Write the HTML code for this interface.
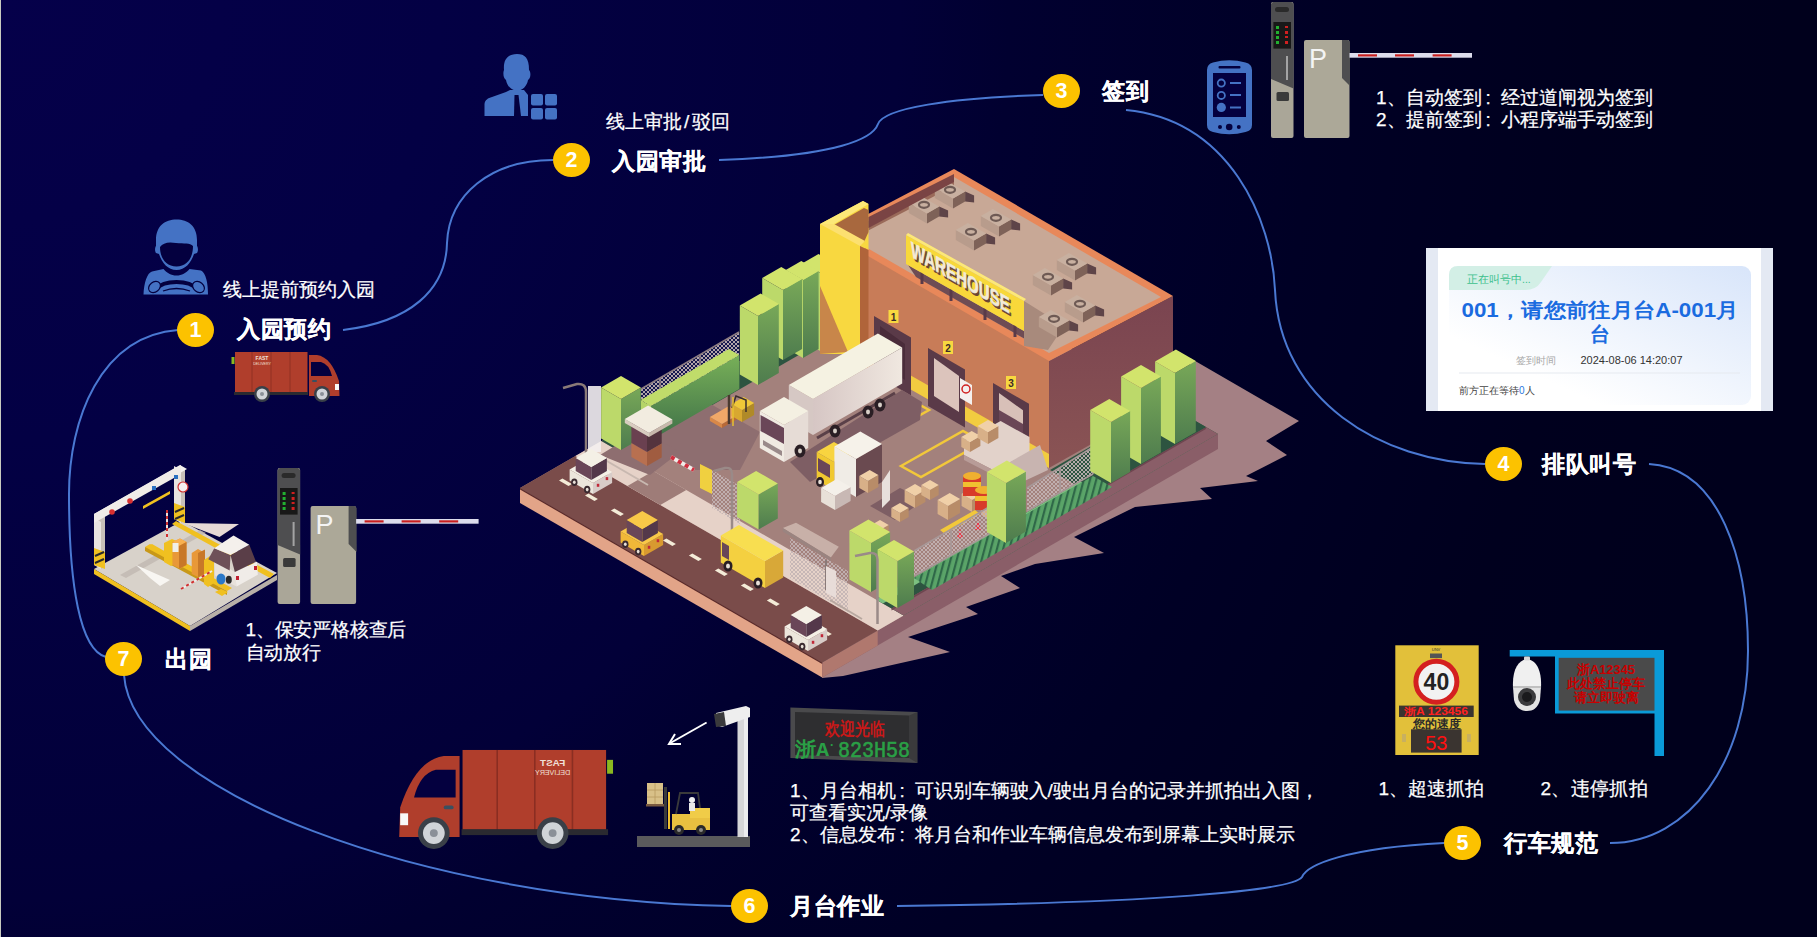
<!DOCTYPE html>
<html><head><meta charset="utf-8">
<style>
html,body{margin:0;padding:0;}
body{width:1817px;height:937px;overflow:hidden;position:relative;
background:radial-gradient(circle at 0 0,#05004a 0px,#030044 440px,#020038 900px,#010030 1010px,#000025 1320px,#00001e 1590px,#00001c 1790px);
font-family:"Liberation Sans",sans-serif;color:#fff;}
.edge{position:absolute;left:0;top:0;width:1px;height:937px;background:#c8cac0;}
.t{position:absolute;white-space:nowrap;line-height:1;}
.lb{font-size:23px;font-weight:bold;letter-spacing:0.6px;}
.bd{font-size:19px;}
.t{-webkit-text-stroke:0.25px #fff;}
.cl{display:inline-block;width:1em;text-indent:0.2em;}
.num{position:absolute;width:37px;height:34px;border-radius:50%;background:#fcc200;color:#fff;font-weight:bold;font-size:21.5px;line-height:34px;text-align:center;-webkit-text-stroke:0;}
svg{position:absolute;left:0;top:0;}
</style></head><body>
<div class="edge"></div>
<svg width="1817" height="937" viewBox="0 0 1817 937">
<defs>
<pattern id="mesh" width="4" height="4" patternUnits="userSpaceOnUse"><path d="M0,0 L4,4 M4,0 L0,4" stroke="#c4b4b4" stroke-width="0.9"/></pattern>
<pattern id="gstripe" width="6" height="6" patternUnits="userSpaceOnUse" patternTransform="rotate(15)"><rect width="6" height="6" fill="#5aa468"/><rect width="2.2" height="6" fill="#2f6848"/></pattern>
<linearGradient id="gR" x1="0" y1="0" x2="0" y2="1"><stop offset="0" stop-color="#78a858"/><stop offset="1" stop-color="#4e7c4e"/></linearGradient>
<linearGradient id="gH" x1="0" y1="0" x2="0" y2="1"><stop offset="0" stop-color="#78b058"/><stop offset="1" stop-color="#3e7048"/></linearGradient>
<linearGradient id="gBR" x1="0" y1="0" x2="0" y2="1"><stop offset="0" stop-color="#7a4450"/><stop offset="1" stop-color="#8a5454"/></linearGradient>
<linearGradient id="gTr" x1="0" y1="0" x2="1" y2="0"><stop offset="0" stop-color="#d6c6c4"/><stop offset="1" stop-color="#f0e8e0"/></linearGradient>
</defs>
<polygon points="1190.0,358.0 1299.0,421.0 1266.0,441.0 1287.0,455.0 1246.0,476.0 1258.0,481.0 1200.0,488.0 1212.0,499.0 1135.0,507.0 1074.0,537.0 1104.0,553.0 1035.0,564.0 1001.0,576.0 1020.0,588.0 966.0,607.0 978.0,614.0 908.0,637.0 950.0,652.0 843.0,676.0 822.0,678.0 822.0,663.0 1190.0,440.0" fill="#a48084" />
<polygon points="520.0,488.0 822.2,662.5 822.2,677.5 520.0,503.0" fill="#e2a488" />
<polygon points="822.2,662.5 1218.0,434.0 1218.0,449.0 822.2,677.5" fill="#8a5e68" />
<polygon points="822.2,662.5 877.7,630.5 877.7,645.5 822.2,677.5" fill="#b0786e" />
<polygon points="520.0,488.0 822.2,662.5 1218.0,434.0 915.8,259.5" fill="#a3817c" />
<polygon points="520.0,488.0 822.2,662.5 877.7,630.5 575.4,456.0" fill="#7a4c4a" />
<polygon points="520.0,488.0 822.2,662.5 822.2,664.0 520.0,489.5" fill="#5a2a2a" />
<polygon points="559.0,480.5 568.5,486.0 572.0,484.0 562.4,478.5" fill="#f4ecd8" />
<polygon points="585.0,495.5 594.5,501.0 597.9,499.0 588.4,493.5" fill="#f4ecd8" />
<polygon points="610.9,510.5 620.5,516.0 623.9,514.0 614.4,508.5" fill="#f4ecd8" />
<polygon points="636.9,525.5 646.4,531.0 649.9,529.0 640.4,523.5" fill="#f4ecd8" />
<polygon points="662.9,540.5 672.4,546.0 675.9,544.0 666.4,538.5" fill="#f4ecd8" />
<polygon points="688.9,555.5 698.4,561.0 701.9,559.0 692.3,553.5" fill="#f4ecd8" />
<polygon points="714.9,570.5 724.4,576.0 727.8,574.0 718.3,568.5" fill="#f4ecd8" />
<polygon points="740.8,585.5 750.4,591.0 753.8,589.0 744.3,583.5" fill="#f4ecd8" />
<polygon points="766.8,600.5 776.3,606.0 779.8,604.0 770.3,598.5" fill="#f4ecd8" />
<polygon points="792.8,615.5 802.3,621.0 805.8,619.0 796.3,613.5" fill="#f4ecd8" />
<polygon points="818.8,630.5 828.3,636.0 831.8,634.0 822.2,628.5" fill="#f4ecd8" />
<polygon points="575.4,456.0 877.7,630.5 903.6,615.5 601.4,441.0" fill="#e6d2c8" />
<polygon points="627.4,486.0 660.3,505.0 686.3,490.0 653.4,471.0" fill="#9e7c78" />
<polygon points="875.9,599.5 903.6,615.5 1218.0,434.0 1190.3,418.0" fill="#2d5440" />
<polygon points="891.5,608.5 903.6,615.5 1218.0,434.0 1205.9,427.0" fill="#8a5e68" />
<polygon points="891.5,608.5 1205.9,427.0 1205.9,429.0 891.5,610.5" fill="#6e4650" />
<polygon points="1050.0,470.0 1090.7,493.5 1205.9,427.0 1165.2,403.5" fill="#2d5440" />
<polygon points="875.9,599.5 882.9,603.5 1087.2,485.5 1080.3,481.5" fill="#7cc080" />
<polygon points="601.4,441.0 625.7,455.0 940.0,273.5 915.8,259.5" fill="#2d5440" />
<polygon points="641,430 700,398 760,432 740,470 690,470" fill="#8e6e70"/>
<polygon points="600,455 641,430 680,452 650,475" fill="#8e6e70"/>
<polygon points="802.9,341.0 822.0,352.0 822.0,274.0 802.9,263.0" fill="#bcd96a" /><polygon points="822.0,352.0 837.6,343.0 837.6,265.0 822.0,274.0" fill="url(#gR)" /><polygon points="802.9,263.0 822.0,274.0 837.6,265.0 818.5,254.0" fill="#d2e46c" />
<polygon points="785.7,348.0 803.0,358.0 803.0,280.0 785.7,270.0" fill="#bcd96a" /><polygon points="803.0,358.0 818.6,349.0 818.6,271.0 803.0,280.0" fill="url(#gR)" /><polygon points="785.7,270.0 803.0,280.0 818.6,271.0 801.3,261.0" fill="#d2e46c" />
<polygon points="762.2,348.0 783.0,360.0 783.0,290.0 762.2,278.0" fill="#bcd96a" /><polygon points="783.0,360.0 802.1,349.0 802.1,279.0 783.0,290.0" fill="url(#gR)" /><polygon points="762.2,278.0 783.0,290.0 802.1,279.0 781.3,267.0" fill="#d2e46c" />
<polygon points="739.8,374.5 758.0,385.0 758.0,316.0 739.8,305.5" fill="#bcd96a" /><polygon points="758.0,385.0 778.8,373.0 778.8,304.0 758.0,316.0" fill="url(#gR)" /><polygon points="739.8,305.5 758.0,316.0 778.8,304.0 760.6,293.5" fill="#d2e46c" />
<polygon points="641.0,389.0 739.0,332.0 739.0,372.0 641.0,428.0" fill="#14164e"/><polygon points="641.0,389.0 739.0,332.0 739.0,372.0 641.0,428.0" fill="url(#mesh)"/>
<g stroke="#8a7a80" stroke-width="1.5"><line x1="641" y1="389" x2="739" y2="332"/><line x1="660" y1="378" x2="660" y2="420"/><line x1="700" y1="355" x2="700" y2="398"/></g>
<polygon points="640.6,434.0 651.0,440.0 651.0,406.0 640.6,400.0" fill="#b5d468" /><polygon points="651.0,440.0 739.3,389.0 739.3,355.0 651.0,406.0" fill="url(#gH)" /><polygon points="640.6,400.0 651.0,406.0 739.3,355.0 728.9,349.0" fill="#c0dc6a" />
<polygon points="601.1,438.5 621.0,450.0 621.0,399.0 601.1,387.5" fill="#bcd96a" /><polygon points="621.0,450.0 640.9,438.5 640.9,387.5 621.0,399.0" fill="url(#gR)" /><polygon points="601.1,387.5 621.0,399.0 640.9,387.5 621.0,376.0" fill="#d2e46c" />
<rect x="588" y="386" width="13" height="66" fill="#f4f0f0" opacity="0.9"/>
<path d="M586,453 L586,392 Q586,383 577,384 L563,388" stroke="#8a7a78" stroke-width="2.5" fill="none"/>
<polygon points="860.0,250.0 874.0,258.0 874.0,372.0 860.0,365.0" fill="#9a5038" />
<polygon points="866.0,254.0 1049.0,359.0 1049.0,468.0 866.0,364.0" fill="#c87c58" />
<polygon points="1049.0,361.0 1173.0,296.0 1173.0,398.0 1049.0,468.0" fill="url(#gBR)" />
<polygon points="880.0,372.0 1049.0,468.0 1049.0,454.0 880.0,358.0" fill="#f2cc40" />
<polygon points="874.0,316.0 911.0,337.4 911.0,395.4 874.0,374.0" fill="#5a3a48" />
<polygon points="880.0,326.0 905.0,343.9 905.0,379.9 880.0,364.0" fill="#4a2c3a" />
<polygon points="928.0,348.0 965.0,369.4 965.0,427.4 928.0,406.0" fill="#5a3a48" />
<polygon points="934.0,358.0 959.0,375.9 959.0,411.9 934.0,396.0" fill="#dcc4bc" />
<polygon points="993.0,383.0 1029.0,403.8 1029.0,458.8 993.0,438.0" fill="#5a3a48" />
<polygon points="999.0,393.0 1023.0,410.3 1023.0,443.3 999.0,428.0" fill="#d8c0b8" />
<polygon points="999.0,410.0 1023.0,424.0 1023.0,452.0 999.0,438.0" fill="#6a4656" />
<polygon points="960.0,378.0 972.0,385.0 972.0,405.0 960.0,398.0" fill="#f4f0ee" />
<circle cx="966" cy="389" r="4" fill="none" stroke="#d02020" stroke-width="1.5"/>
<rect x="888.5" y="310" width="10" height="13" fill="#f8d840"/><text x="893.5" y="321" font-size="10" font-weight="bold" fill="#3a2a2a" text-anchor="middle" font-family="Liberation Sans">1</text>
<rect x="943" y="341" width="10" height="13" fill="#f8d840"/><text x="948" y="352" font-size="10" font-weight="bold" fill="#3a2a2a" text-anchor="middle" font-family="Liberation Sans">2</text>
<rect x="1006" y="376" width="10" height="13" fill="#f8d840"/><text x="1011" y="387" font-size="10" font-weight="bold" fill="#3a2a2a" text-anchor="middle" font-family="Liberation Sans">3</text>
<polygon points="954.0,169.0 1173.0,296.0 1049.0,361.0 830.0,234.0" fill="#e8885a" />
<polygon points="954.0,177.0 1161.0,297.0 1049.0,353.0 843.0,234.0" fill="#c8a896" />
<polygon points="954.0,177.0 843.0,234.0 850.0,240.0 954.0,186.0" fill="#9a6a5a" />
<polygon points="908.0,265.0 1024.0,331.0 1032.0,343.0 916.0,277.0" fill="#6e4c54" />
<polygon points="1024.0,301.0 1064.0,326.0 1048.0,350.0 1024.0,346.0" fill="#a88a7c" />
<polygon points="939.1,206.5 948.1,210.5 948.1,217.5 939.1,216.5" fill="#5e4448" />
<polygon points="908.8,213.0 927.0,223.5 927.0,213.5 908.8,203.0" fill="#b89c8c" /><polygon points="927.0,223.5 939.1,216.5 939.1,206.5 927.0,213.5" fill="#7e6258" /><polygon points="908.8,203.0 927.0,213.5 939.1,206.5 920.9,196.0" fill="#c8b0a0" />
<ellipse cx="924.0" cy="204.8" rx="5" ry="3" fill="none" stroke="#6e5a54" stroke-width="2.2"/>
<polygon points="965.1,191.5 974.1,195.5 974.1,202.5 965.1,201.5" fill="#5e4448" />
<polygon points="934.8,198.0 953.0,208.5 953.0,198.5 934.8,188.0" fill="#b89c8c" /><polygon points="953.0,208.5 965.1,201.5 965.1,191.5 953.0,198.5" fill="#7e6258" /><polygon points="934.8,188.0 953.0,198.5 965.1,191.5 946.9,181.0" fill="#c8b0a0" />
<ellipse cx="950.0" cy="189.8" rx="5" ry="3" fill="none" stroke="#6e5a54" stroke-width="2.2"/>
<polygon points="986.1,233.5 995.1,237.5 995.1,244.5 986.1,243.5" fill="#5e4448" />
<polygon points="955.8,240.0 974.0,250.5 974.0,240.5 955.8,230.0" fill="#b89c8c" /><polygon points="974.0,250.5 986.1,243.5 986.1,233.5 974.0,240.5" fill="#7e6258" /><polygon points="955.8,230.0 974.0,240.5 986.1,233.5 967.9,223.0" fill="#c8b0a0" />
<ellipse cx="971.0" cy="231.8" rx="5" ry="3" fill="none" stroke="#6e5a54" stroke-width="2.2"/>
<polygon points="1011.1,219.5 1020.1,223.5 1020.1,230.5 1011.1,229.5" fill="#5e4448" />
<polygon points="980.8,226.0 999.0,236.5 999.0,226.5 980.8,216.0" fill="#b89c8c" /><polygon points="999.0,236.5 1011.1,229.5 1011.1,219.5 999.0,226.5" fill="#7e6258" /><polygon points="980.8,216.0 999.0,226.5 1011.1,219.5 992.9,209.0" fill="#c8b0a0" />
<ellipse cx="996.0" cy="217.8" rx="5" ry="3" fill="none" stroke="#6e5a54" stroke-width="2.2"/>
<polygon points="1063.1,278.5 1072.1,282.5 1072.1,289.5 1063.1,288.5" fill="#5e4448" />
<polygon points="1032.8,285.0 1051.0,295.5 1051.0,285.5 1032.8,275.0" fill="#b89c8c" /><polygon points="1051.0,295.5 1063.1,288.5 1063.1,278.5 1051.0,285.5" fill="#7e6258" /><polygon points="1032.8,275.0 1051.0,285.5 1063.1,278.5 1044.9,268.0" fill="#c8b0a0" />
<ellipse cx="1048.0" cy="276.8" rx="5" ry="3" fill="none" stroke="#6e5a54" stroke-width="2.2"/>
<polygon points="1087.1,263.5 1096.1,267.5 1096.1,274.5 1087.1,273.5" fill="#5e4448" />
<polygon points="1056.8,270.0 1075.0,280.5 1075.0,270.5 1056.8,260.0" fill="#b89c8c" /><polygon points="1075.0,280.5 1087.1,273.5 1087.1,263.5 1075.0,270.5" fill="#7e6258" /><polygon points="1056.8,260.0 1075.0,270.5 1087.1,263.5 1068.9,253.0" fill="#c8b0a0" />
<ellipse cx="1072.0" cy="261.8" rx="5" ry="3" fill="none" stroke="#6e5a54" stroke-width="2.2"/>
<polygon points="1069.1,320.5 1078.1,324.5 1078.1,331.5 1069.1,330.5" fill="#5e4448" />
<polygon points="1038.8,327.0 1057.0,337.5 1057.0,327.5 1038.8,317.0" fill="#b89c8c" /><polygon points="1057.0,337.5 1069.1,330.5 1069.1,320.5 1057.0,327.5" fill="#7e6258" /><polygon points="1038.8,317.0 1057.0,327.5 1069.1,320.5 1050.9,310.0" fill="#c8b0a0" />
<ellipse cx="1054.0" cy="318.8" rx="5" ry="3" fill="none" stroke="#6e5a54" stroke-width="2.2"/>
<polygon points="1095.1,305.5 1104.1,309.5 1104.1,316.5 1095.1,315.5" fill="#5e4448" />
<polygon points="1064.8,312.0 1083.0,322.5 1083.0,312.5 1064.8,302.0" fill="#b89c8c" /><polygon points="1083.0,322.5 1095.1,315.5 1095.1,305.5 1083.0,312.5" fill="#7e6258" /><polygon points="1064.8,302.0 1083.0,312.5 1095.1,305.5 1076.9,295.0" fill="#c8b0a0" />
<ellipse cx="1080.0" cy="303.8" rx="5" ry="3" fill="none" stroke="#6e5a54" stroke-width="2.2"/>
<g stroke="#5a3a48" stroke-width="3"><line x1="922" y1="272" x2="922" y2="284"/><line x1="951" y1="289" x2="951" y2="301"/><line x1="985" y1="308" x2="985" y2="320"/><line x1="1015" y1="325" x2="1015" y2="337"/></g>
<polygon points="906.0,235.0 1024.0,301.0 1024.0,331.0 906.0,264.0" fill="#f8d83a" />
<polygon points="906.0,235.0 1024.0,301.0 1026.0,299.0 908.0,233.0" fill="#fce878" />
<text x="0" y="0" transform="matrix(0.866,0.5,0,1,912.5,259)" font-family="Liberation Sans" font-weight="bold" font-size="22" fill="#6a4634" stroke="#6a4634" stroke-width="1" textLength="114" lengthAdjust="spacingAndGlyphs">WAREHOUSE</text>
<text x="0" y="0" transform="matrix(0.866,0.5,0,1,911,256.5)" font-family="Liberation Sans" font-weight="bold" font-size="22" fill="#f2ead8" stroke="#f2ead8" stroke-width="0.6" textLength="114" lengthAdjust="spacingAndGlyphs">WAREHOUSE</text>
<polygon points="820.0,224.0 863.0,201.0 868.5,204.0 868.5,250.0 865.0,248.0 865.0,354.0 820.0,354.0" fill="#f8d840" />
<polygon points="834.0,225.0 864.0,208.0 868.5,210.0 868.5,232.0 864.0,242.0" fill="#a8683e" />
<polygon points="868.5,217.0 954.0,174.0 954.0,182.0 868.5,228.0" fill="#7a4444" />
<polygon points="820.0,224.0 863.0,201.0 868.5,204.0 834.0,224.0" fill="#fce878" />
<polygon points="820.0,224.0 834.0,224.0 865.0,241.0 860.0,246.0" fill="#fce070" />
<polygon points="820.0,286.0 848.0,352.0 820.0,354.0" fill="#c8864a" />
<polygon points="860.0,246.0 868.5,250.0 868.5,372.0 860.0,356.0" fill="#b0643a" />
<g stroke="#f2c83a" stroke-width="2.5" fill="none"><polygon points="847,434 909,399 929,410 867,445"/><polygon points="901,466 963,431 983,442 921,477"/></g>
<polygon points="964.0,441.5 1000.6,421.0 1029.5,437.0 1029.5,452.0 995.0,471.0 964.0,455.0" fill="#e2d2ca" />
<polygon points="964.0,455.0 995.0,471.0 995.0,476.0 964.0,460.0" fill="#b89c98" />
<polygon points="1010.0,462.0 1040.0,445.0 1048.0,470.0 1018.0,484.0" fill="#c8b4b0" />
<polygon points="961.3,447.0 970.0,452.0 970.0,442.0 961.3,437.0" fill="#d8b088" /><polygon points="970.0,452.0 980.4,446.0 980.4,436.0 970.0,442.0" fill="#b88c68" /><polygon points="961.3,437.0 970.0,442.0 980.4,436.0 971.7,431.0" fill="#f0d0a8" />
<polygon points="977.6,438.0 988.0,444.0 988.0,432.0 977.6,426.0" fill="#d8b088" /><polygon points="988.0,444.0 998.4,438.0 998.4,426.0 988.0,432.0" fill="#b88c68" /><polygon points="977.6,426.0 988.0,432.0 998.4,426.0 988.0,420.0" fill="#f0d0a8" />
<polygon points="790,462 902,390 922,402 920,420 810,482" fill="#7e5e64"/>
<polygon points="870,506 900,488 925,500 895,520" fill="#7e5e64"/>
<g><polygon points="788.8,421.0 813.0,435.0 813.0,399.0 788.8,385.0" fill="#d6c8c4" /><polygon points="813.0,435.0 902.2,383.5 902.2,347.5 813.0,399.0" fill="url(#gTr)" /><polygon points="788.8,385.0 813.0,399.0 902.2,347.5 877.9,333.5" fill="#f5f2e2" /></g>
<line x1="817" y1="438" x2="895" y2="393" stroke="#5a4048" stroke-width="3"/>
<ellipse cx="835" cy="431" rx="5.5" ry="6.5" fill="#2a1e24"/><ellipse cx="835" cy="431" rx="2" ry="2.4" fill="#d8d0c8"/>
<ellipse cx="868" cy="412" rx="5.5" ry="6.5" fill="#2a1e24"/><ellipse cx="868" cy="412" rx="2" ry="2.4" fill="#d8d0c8"/>
<ellipse cx="880" cy="405" rx="5.5" ry="6.5" fill="#2a1e24"/><ellipse cx="880" cy="405" rx="2" ry="2.4" fill="#d8d0c8"/>
<polygon points="759.8,448.0 784.0,462.0 784.0,425.0 759.8,411.0" fill="#f0eae2" /><polygon points="784.0,462.0 808.2,448.0 808.2,411.0 784.0,425.0" fill="#e6dcd6" /><polygon points="759.8,411.0 784.0,425.0 808.2,411.0 784.0,397.0" fill="#f4f0e2" />
<polygon points="760.5,415.0 784.0,428.0 784.0,444.0 760.5,431.0" fill="#6a4658" />
<polygon points="763.0,440.0 782.0,451.0 782.0,456.0 763.0,445.0" fill="#9a8a8a" />
<ellipse cx="800" cy="451" rx="5.5" ry="6.5" fill="#2a1e24"/><ellipse cx="800" cy="451" rx="2" ry="2.4" fill="#d8d0c8"/>
<polygon points="709.9,421.0 722.0,428.0 722.0,424.0 709.9,417.0" fill="#d88848" /><polygon points="722.0,428.0 741.1,417.0 741.1,413.0 722.0,424.0" fill="#b86a38" /><polygon points="709.9,417.0 722.0,424.0 741.1,413.0 728.9,406.0" fill="#f0a868" />
<polygon points="731.6,416.0 742.0,422.0 742.0,410.0 731.6,404.0" fill="#d8a830" /><polygon points="742.0,422.0 754.1,415.0 754.1,403.0 742.0,410.0" fill="#b08a28" /><polygon points="731.6,404.0 742.0,410.0 754.1,403.0 743.7,397.0" fill="#f0c838" />
<polyline points="732,408 736,396 746,400 746,412" stroke="#3a2e2e" stroke-width="1.5" fill="none"/>
<line x1="729" y1="395" x2="729" y2="424" stroke="#4a3a30" stroke-width="2.5"/><line x1="733" y1="397" x2="733" y2="426" stroke="#e8c030" stroke-width="1.5"/>
<polygon points="631.4,457.0 647.0,466.0 647.0,452.0 631.4,443.0" fill="#b87050" /><polygon points="647.0,466.0 661.7,457.5 661.7,443.5 647.0,452.0" fill="#a05c40" /><polygon points="631.4,443.0 647.0,452.0 661.7,443.5 646.1,434.5" fill="#c08060" />
<polygon points="631.4,443.0 647.0,452.0 647.0,430.0 631.4,421.0" fill="#6a4050" /><polygon points="647.0,452.0 661.7,443.5 661.7,421.5 647.0,430.0" fill="#54343e" /><polygon points="631.4,421.0 647.0,430.0 661.7,421.5 646.1,412.5" fill="#6a4a50" />
<polygon points="624.8,423.0 649.0,437.0 649.0,433.0 624.8,419.0" fill="#d8ccc0" /><polygon points="649.0,437.0 672.4,423.5 672.4,419.5 649.0,433.0" fill="#c8b8ac" /><polygon points="624.8,419.0 649.0,433.0 672.4,419.5 648.1,405.5" fill="#f2ece0" />
<line x1="671" y1="457" x2="694" y2="470" stroke="#f0ece8" stroke-width="4"/><line x1="671" y1="457" x2="694" y2="470" stroke="#d03040" stroke-width="4" stroke-dasharray="4 4"/>
<polygon points="700.0,464.0 712.0,470.0 712.0,494.0 700.0,488.0" fill="#f0d040" />
<polygon points="712,470 740,486 740,524 712,508" fill="url(#mesh)"/>
<polygon points="816.7,480.0 834.0,490.0 834.0,462.0 816.7,452.0" fill="#f0c830" /><polygon points="834.0,490.0 851.3,480.0 851.3,452.0 834.0,462.0" fill="#c89a28" /><polygon points="816.7,452.0 834.0,462.0 851.3,452.0 834.0,442.0" fill="#f8d440" />
<polygon points="818.0,458.0 830.0,465.0 830.0,478.0 818.0,471.0" fill="#6a4658" />
<polygon points="834.4,484.5 856.0,497.0 856.0,459.0 834.4,446.5" fill="#f0ece6" /><polygon points="856.0,497.0 882.0,482.0 882.0,444.0 856.0,459.0" fill="#6a4a50" /><polygon points="834.4,446.5 856.0,459.0 882.0,444.0 860.3,431.5" fill="#f6f2ea" />
<polygon points="859.3,488.0 868.0,493.0 868.0,481.0 859.3,476.0" fill="#d8b088" /><polygon points="868.0,493.0 878.4,487.0 878.4,475.0 868.0,481.0" fill="#b88c68" /><polygon points="859.3,476.0 868.0,481.0 878.4,475.0 869.7,470.0" fill="#f0d0a8" />
<polygon points="882.0,482.0 890.0,470.0 890.0,500.0 882.0,508.0" fill="#e8e0dc" />
<ellipse cx="820" cy="482" rx="4" ry="5" fill="#2a1e24"/><ellipse cx="820" cy="482" rx="1.8" ry="2.2" fill="#e8e0d8"/>
<ellipse cx="846" cy="496" rx="4" ry="5" fill="#2a1e24"/><ellipse cx="846" cy="496" rx="1.8" ry="2.2" fill="#e8e0d8"/>
<polygon points="904.6,502.0 915.0,508.0 915.0,496.0 904.6,490.0" fill="#d8b088" /><polygon points="915.0,508.0 925.4,502.0 925.4,490.0 915.0,496.0" fill="#b88c68" /><polygon points="904.6,490.0 915.0,496.0 925.4,490.0 915.0,484.0" fill="#f0d0a8" />
<polygon points="921.3,495.0 930.0,500.0 930.0,490.0 921.3,485.0" fill="#d8b088" /><polygon points="930.0,500.0 938.7,495.0 938.7,485.0 930.0,490.0" fill="#b88c68" /><polygon points="921.3,485.0 930.0,490.0 938.7,485.0 930.0,480.0" fill="#f0d0a8" />
<polygon points="937.6,514.0 948.0,520.0 948.0,506.0 937.6,500.0" fill="#d8b088" /><polygon points="948.0,520.0 960.1,513.0 960.1,499.0 948.0,506.0" fill="#b88c68" /><polygon points="937.6,500.0 948.0,506.0 960.1,499.0 949.7,493.0" fill="#f0d0a8" />
<polygon points="891.3,517.0 900.0,522.0 900.0,513.0 891.3,508.0" fill="#d8b088" /><polygon points="900.0,522.0 908.7,517.0 908.7,508.0 900.0,513.0" fill="#b88c68" /><polygon points="891.3,508.0 900.0,513.0 908.7,508.0 900.0,503.0" fill="#f0d0a8" />
<polygon points="981.3,515.0 990.0,520.0 990.0,510.0 981.3,505.0" fill="#d8b088" /><polygon points="990.0,520.0 1000.4,514.0 1000.4,504.0 990.0,510.0" fill="#b88c68" /><polygon points="981.3,505.0 990.0,510.0 1000.4,504.0 991.7,499.0" fill="#f0d0a8" />
<polygon points="961.6,506.0 972.0,512.0 972.0,500.0 961.6,494.0" fill="#d8b088" /><polygon points="972.0,512.0 980.7,507.0 980.7,495.0 972.0,500.0" fill="#b88c68" /><polygon points="961.6,494.0 972.0,500.0 980.7,495.0 970.3,489.0" fill="#f0d0a8" />
<polygon points="871.3,535.0 880.0,540.0 880.0,530.0 871.3,525.0" fill="#d8b088" /><polygon points="880.0,540.0 888.7,535.0 888.7,525.0 880.0,530.0" fill="#b88c68" /><polygon points="871.3,525.0 880.0,530.0 888.7,525.0 880.0,520.0" fill="#f0d0a8" />
<polygon points="821.1,502.0 835.0,510.0 835.0,496.0 821.1,488.0" fill="#e8e0d8" /><polygon points="835.0,510.0 850.6,501.0 850.6,487.0 835.0,496.0" fill="#c8b8b4" /><polygon points="821.1,488.0 835.0,496.0 850.6,487.0 836.7,479.0" fill="#f4f0ea" />
<polygon points="940.0,530.0 975.0,510.0 980.0,514.0 945.0,534.0" fill="#f2c83a" />
<polygon points="957,538 960,528 963,538" fill="#e83848"/>
<polygon points="975,530 978,520 981,530" fill="#e83848"/>
<rect x="963" y="476" width="18" height="20" fill="#d83a2a"/><rect x="963" y="482" width="18" height="5" fill="#f0c030"/><ellipse cx="972" cy="476" rx="9" ry="4" fill="#f0b030"/>
<rect x="975" y="490" width="18" height="20" fill="#d83a2a"/><rect x="975" y="496" width="18" height="5" fill="#f0c030"/><ellipse cx="984" cy="490" rx="9" ry="4" fill="#f0b030"/>
<polygon points="790,538 848,571 848,612 790,578" fill="url(#mesh)"/>
<polygon points="737.1,516.9 758.7,529.4 758.7,494.4 737.1,481.9" fill="#bcd96a" /><polygon points="758.7,529.4 777.8,518.4 777.8,483.4 758.7,494.4" fill="url(#gR)" /><polygon points="737.1,481.9 758.7,494.4 777.8,483.4 756.1,470.9" fill="#d2e46c" />
<polygon points="782.8,528.0 796.0,522.7 838.8,546.8 830.8,557.4" fill="#c8b0a8" />
<polygon points="782.8,528.0 830.8,557.4 830.8,561.0 782.8,531.6" fill="#9a8480" />
<line x1="826" y1="560" x2="826" y2="590" stroke="#8a7a78" stroke-width="2"/><polygon points="826,566 836,571 836,598 826,593" fill="#e8dcd8"/>
<polygon points="914,551 989,507 989,534 914,576" fill="url(#mesh)"/>
<polygon points="1027,488 1093,447 1093,474 1027,511" fill="url(#mesh)"/>
<g stroke="#a89898" stroke-width="1.6"><line x1="914" y1="551" x2="989" y2="507"/><line x1="1027" y1="488" x2="1093" y2="447"/><line x1="914" y1="576" x2="989" y2="534"/><line x1="1027" y1="511" x2="1093" y2="474"/><line x1="951" y1="529" x2="951" y2="556"/><line x1="1060" y1="467" x2="1060" y2="493"/><line x1="989" y1="507" x2="989" y2="534"/><line x1="1093" y1="447" x2="1093" y2="474"/></g>
<polygon points="914,578 1093,476 1112,487 932,590" fill="url(#gstripe)"/>
<polygon points="986.9,532.0 1006.0,543.0 1006.0,483.0 986.9,472.0" fill="#bcd96a" /><polygon points="1006.0,543.0 1025.9,531.5 1025.9,471.5 1006.0,483.0" fill="url(#gR)" /><polygon points="986.9,472.0 1006.0,483.0 1025.9,471.5 1006.9,460.5" fill="#d2e46c" />
<polygon points="1155.1,432.5 1175.0,444.0 1175.0,373.0 1155.1,361.5" fill="#bcd96a" /><polygon points="1175.0,444.0 1195.8,432.0 1195.8,361.0 1175.0,373.0" fill="url(#gR)" /><polygon points="1155.1,361.5 1175.0,373.0 1195.8,361.0 1175.9,349.5" fill="#d2e46c" />
<polygon points="1121.1,452.5 1141.0,464.0 1141.0,388.0 1121.1,376.5" fill="#bcd96a" /><polygon points="1141.0,464.0 1160.9,452.5 1160.9,376.5 1141.0,388.0" fill="url(#gR)" /><polygon points="1121.1,376.5 1141.0,388.0 1160.9,376.5 1141.0,365.0" fill="#d2e46c" />
<polygon points="1090.2,471.0 1111.0,483.0 1111.0,422.0 1090.2,410.0" fill="#bcd96a" /><polygon points="1111.0,483.0 1130.1,472.0 1130.1,411.0 1111.0,422.0" fill="url(#gR)" /><polygon points="1090.2,410.0 1111.0,422.0 1130.1,411.0 1109.3,399.0" fill="#d2e46c" />
<polygon points="849.4,579.5 871.0,592.0 871.0,543.0 849.4,530.5" fill="#bcd96a" /><polygon points="871.0,592.0 890.1,581.0 890.1,532.0 871.0,543.0" fill="url(#gR)" /><polygon points="849.4,530.5 871.0,543.0 890.1,532.0 868.4,519.5" fill="#d2e46c" />
<polygon points="877.6,596.5 897.5,608.0 897.5,561.0 877.6,549.5" fill="#bcd96a" /><polygon points="897.5,608.0 914.0,598.5 914.0,551.5 897.5,561.0" fill="url(#gR)" /><polygon points="877.6,549.5 897.5,561.0 914.0,551.5 894.0,540.0" fill="#d2e46c" />
<path d="M732,531 L732,474 Q732,467 725,468 L714,471" stroke="#9a8a88" stroke-width="2.5" fill="none"/>
<path d="M877.5,624 L877.5,560 Q877.5,552 870,553 L855,556" stroke="#9a8a88" stroke-width="2.5" fill="none"/>
<polyline points="600,457 648,485" stroke="#c8b8b0" stroke-width="2" fill="none"/>
<polyline points="830,600 862,619" stroke="#b8a8a0" stroke-width="2" fill="none"/>
<polygon points="569.6,480.5 593.0,494.0 593.0,483.0 569.6,469.5" fill="#ece6dc" /><polygon points="593.0,494.0 612.1,483.0 612.1,472.0 593.0,483.0" fill="#d8ccc8" /><polygon points="569.6,469.5 593.0,483.0 612.1,472.0 588.7,458.5" fill="#f4f0e6" />
<polygon points="575.7,471.0 591.3,480.0 591.3,467.0 575.7,458.0" fill="#6a4658" /><polygon points="591.3,480.0 606.9,471.0 606.9,458.0 591.3,467.0" fill="#54384a" /><polygon points="575.7,458.0 591.3,467.0 606.9,458.0 591.3,449.0" fill="#f4f0e6" />
<rect x="596.8" y="483.8" width="2.5" height="3" fill="#c02838"/><rect x="605.7" y="477.1" width="2.5" height="3" fill="#c02838"/>
<ellipse cx="587.2" cy="489.6" rx="3.2" ry="3.8" fill="#3a2a30"/><ellipse cx="587.2" cy="489.6" rx="1.4" ry="1.8" fill="#e8e0d8"/>
<ellipse cx="574.3" cy="482.2" rx="3.2" ry="3.8" fill="#3a2a30"/><ellipse cx="574.3" cy="482.2" rx="1.4" ry="1.8" fill="#e8e0d8"/>
<polygon points="620.6,542.5 644.0,556.0 644.0,545.0 620.6,531.5" fill="#f0b838" /><polygon points="644.0,556.0 663.1,545.0 663.1,534.0 644.0,545.0" fill="#d89a30" /><polygon points="620.6,531.5 644.0,545.0 663.1,534.0 639.7,520.5" fill="#f8c848" />
<polygon points="626.7,533.0 642.3,542.0 642.3,529.0 626.7,520.0" fill="#6a4658" /><polygon points="642.3,542.0 657.9,533.0 657.9,520.0 642.3,529.0" fill="#54384a" /><polygon points="626.7,520.0 642.3,529.0 657.9,520.0 642.3,511.0" fill="#f8c848" />
<rect x="647.8" y="545.8" width="2.5" height="3" fill="#c02838"/><rect x="656.7" y="539.2" width="2.5" height="3" fill="#c02838"/>
<ellipse cx="638.2" cy="551.6" rx="3.2" ry="3.8" fill="#3a2a30"/><ellipse cx="638.2" cy="551.6" rx="1.4" ry="1.8" fill="#e8e0d8"/>
<ellipse cx="625.3" cy="544.2" rx="3.2" ry="3.8" fill="#3a2a30"/><ellipse cx="625.3" cy="544.2" rx="1.4" ry="1.8" fill="#e8e0d8"/>
<polygon points="720.8,562.5 765.0,588.0 765.0,561.0 720.8,535.5" fill="#f4d040" /><polygon points="765.0,588.0 783.2,577.5 783.2,550.5 765.0,561.0" fill="#d8a838" /><polygon points="720.8,535.5 765.0,561.0 783.2,550.5 739.0,525.0" fill="#f8de50" />
<polygon points="722.0,542.0 729.0,546.0 729.0,560.0 722.0,556.0" fill="#6a4658" />
<ellipse cx="728" cy="566" rx="4.5" ry="5.5" fill="#2a1e24"/><ellipse cx="728" cy="566" rx="2" ry="2.5" fill="#e8e0d8"/>
<ellipse cx="758" cy="583" rx="4.5" ry="5.5" fill="#2a1e24"/><ellipse cx="758" cy="583" rx="2" ry="2.5" fill="#e8e0d8"/>
<polygon points="784.6,637.5 808.0,651.0 808.0,640.0 784.6,626.5" fill="#ece6dc" /><polygon points="808.0,651.0 827.1,640.0 827.1,629.0 808.0,640.0" fill="#d8ccc8" /><polygon points="784.6,626.5 808.0,640.0 827.1,629.0 803.7,615.5" fill="#f4f0e6" />
<polygon points="790.7,628.0 806.3,637.0 806.3,624.0 790.7,615.0" fill="#6a4658" /><polygon points="806.3,637.0 821.9,628.0 821.9,615.0 806.3,624.0" fill="#54384a" /><polygon points="790.7,615.0 806.3,624.0 821.9,615.0 806.3,606.0" fill="#f4f0e6" />
<rect x="811.8" y="640.8" width="2.5" height="3" fill="#c02838"/><rect x="820.7" y="634.2" width="2.5" height="3" fill="#c02838"/>
<ellipse cx="802.2" cy="646.6" rx="3.2" ry="3.8" fill="#3a2a30"/><ellipse cx="802.2" cy="646.6" rx="1.4" ry="1.8" fill="#e8e0d8"/>
<ellipse cx="789.3" cy="639.2" rx="3.2" ry="3.8" fill="#3a2a30"/><ellipse cx="789.3" cy="639.2" rx="1.4" ry="1.8" fill="#e8e0d8"/>

<path d="M156,240 C156,226 165,219.5 176.5,219.5 C188,219.5 197,226 197,240 L197,246 C198,247 198.5,251 197,253 L194,254 C191,263 185,270 176.5,270 C168,270 162,263 159,254 L156,253 C154.5,251 155,247 156,246 Z" fill="#4472c4"/>
<path d="M160,247 C163,243 168,241.5 176,243 C184,243.5 190,243 193,246 C193,258 187,266.5 176.5,266.5 C166,266.5 160,258 160,247 Z" fill="#04003f"/>
<path d="M143.5,294.5 C144,283 147,273 152,271.5 L163.5,269 C167,273 171,275.5 176.5,275.5 C182,275.5 186,273 189.5,269 L201,270.5 C206,273 208,283 208,294.5 Z" fill="#4472c4"/>
<path d="M156,289 C164,279.5 189,279.5 197,289" stroke="#04003f" stroke-width="4" fill="none"/>
<path d="M163,291 Q176.5,286 190,291" stroke="#04003f" stroke-width="1.3" fill="none"/>
<ellipse cx="154.5" cy="287" rx="6.5" ry="5" fill="#4472c4" stroke="#04003f" stroke-width="1.2" transform="rotate(-40 154.5 287)"/>
<ellipse cx="198.5" cy="287" rx="6.5" ry="5" fill="#4472c4" stroke="#04003f" stroke-width="1.2" transform="rotate(40 198.5 287)"/>
<g fill="#4472c4"><path d="M504,70 C503,58 509,54 517,54 C525,54 529,58 529,70 C531,72 531,78 528,80 C527,86 523,90 517,91 C511,90 507,86 506,80 C503,78 503,72 504,70 Z"/><path d="M484.5,116 L484.5,104 C485,100 488,98 492,97 L506,92 L510,90 L524,90 L528,95 L528,116 Z"/><rect x="531" y="94" width="12" height="11.5" rx="2"/><rect x="545" y="94" width="12" height="11.5" rx="2"/><rect x="531" y="108" width="12" height="11.5" rx="2"/><rect x="545" y="108" width="12" height="11.5" rx="2"/></g>
<polygon points="514.5,95 518.5,95 521,116 514,116" fill="#04003f"/>
<g>
<rect x="231.5" y="357" width="3" height="7" fill="#8ab820"/>
<rect x="235" y="352" width="72.5" height="41" fill="#b03e2c"/>
<g stroke="#8a2e22" stroke-width="0.8"><line x1="252" y1="352" x2="252" y2="393"/><line x1="271" y1="352" x2="271" y2="393"/><line x1="290" y1="352" x2="290" y2="393"/></g>
<text x="262" y="360" font-size="5" fill="#f0e0d8" text-anchor="middle" font-family="Liberation Sans" font-weight="bold">FAST</text>
<text x="262" y="364.5" font-size="3.6" fill="#f0e0d8" text-anchor="middle" font-family="Liberation Sans">DELIVERY</text>
<rect x="234" y="392" width="74" height="3" fill="#2a2a30"/>
<path d="M309,355 L317,355 Q331,357 339,381 L339.5,396 L309,396 Z" fill="#b03e2c"/>
<path d="M311,362 L321,362 Q329,364 332,376 L311,376 Z" fill="#04003f"/>
<rect x="312" y="380" width="5" height="2" rx="1" fill="#3a5060"/>
<rect x="335" y="384" width="4" height="6" fill="#f8f8f8"/>
<g><circle cx="262" cy="394" r="8" fill="#3a4048"/><circle cx="262" cy="394" r="5.5" fill="#d0d4d8"/><circle cx="262" cy="394" r="2" fill="#8a9098"/></g>
<g><circle cx="322" cy="394" r="8" fill="#3a4048"/><circle cx="322" cy="394" r="5.5" fill="#d0d4d8"/><circle cx="322" cy="394" r="2" fill="#8a9098"/></g>
</g>
<g transform="matrix(-1.98,0,0,1.98,1071.4,53)"><g>
<rect x="231.5" y="357" width="3" height="7" fill="#8ab820"/>
<rect x="235" y="352" width="72.5" height="41" fill="#b03e2c"/>
<g stroke="#8a2e22" stroke-width="0.8"><line x1="252" y1="352" x2="252" y2="393"/><line x1="271" y1="352" x2="271" y2="393"/><line x1="290" y1="352" x2="290" y2="393"/></g>
<text x="262" y="360" font-size="5" fill="#f0e0d8" text-anchor="middle" font-family="Liberation Sans" font-weight="bold">FAST</text>
<text x="262" y="364.5" font-size="3.6" fill="#f0e0d8" text-anchor="middle" font-family="Liberation Sans">DELIVERY</text>
<rect x="234" y="392" width="74" height="3" fill="#2a2a30"/>
<path d="M309,355 L317,355 Q331,357 339,381 L339.5,396 L309,396 Z" fill="#b03e2c"/>
<path d="M311,362 L321,362 Q329,364 332,376 L311,376 Z" fill="#04003f"/>
<rect x="312" y="380" width="5" height="2" rx="1" fill="#3a5060"/>
<rect x="335" y="384" width="4" height="6" fill="#f8f8f8"/>
<g><circle cx="262" cy="394" r="8" fill="#3a4048"/><circle cx="262" cy="394" r="5.5" fill="#d0d4d8"/><circle cx="262" cy="394" r="2" fill="#8a9098"/></g>
<g><circle cx="322" cy="394" r="8" fill="#3a4048"/><circle cx="322" cy="394" r="5.5" fill="#d0d4d8"/><circle cx="322" cy="394" r="2" fill="#8a9098"/></g>
</g></g>
<path d="M1207,70 Q1207,64 1213,62.5 Q1229.3,58 1245.5,62.5 Q1252,64 1252,70 L1252,125 Q1252,130.5 1245.5,132 Q1229.3,136.5 1213,132 Q1207,130.5 1207,125 Z" fill="#4472c4"/>
<rect x="1213" y="73" width="33" height="44" fill="#04003f"/>
<rect x="1218.5" y="66" width="22" height="2.5" rx="1" fill="#04003f"/>
<g stroke="#4472c4" stroke-width="1.8" fill="none"><circle cx="1221.3" cy="83.1" r="3.6"/><circle cx="1221.3" cy="95.4" r="3.6"/></g><circle cx="1221.3" cy="107.4" r="4.6" fill="#4472c4"/>
<g fill="#4472c4"><rect x="1230" y="82" width="11" height="2"/><rect x="1230" y="94" width="11" height="2"/><rect x="1230" y="106.5" width="11" height="2"/></g>
<g fill="#04003f"><circle cx="1220" cy="127" r="2"/><circle cx="1229.2" cy="127" r="3.3"/><circle cx="1238.8" cy="127" r="2"/></g>
<g>
<rect x="1271" y="2" width="22.5" height="136" rx="2" fill="#aaa698"/>
<polygon points="1271,4 1273,2 1291.5,2 1293.5,4 1293.5,88.5 1271,79" fill="#4e4e50"/>
<rect x="1273.4" y="22" width="17.6" height="26.6" fill="#181818"/>
<g fill="#22b030"><rect x="1276" y="26" width="3" height="3"/><rect x="1276" y="31" width="3" height="3"/><rect x="1276" y="36" width="3" height="3"/><rect x="1276" y="41" width="3" height="3"/></g>
<g fill="#d02020"><rect x="1285" y="26" width="3" height="2"/><rect x="1285" y="31" width="3" height="3"/><rect x="1285" y="36" width="3" height="2"/><rect x="1285" y="41" width="3" height="3"/></g>
<rect x="1275" y="7" width="14" height="5" rx="2.5" fill="#2a2a2a"/>
<rect x="1286" y="56" width="2" height="24" fill="#c8c8c8" opacity="0.7"/>
<rect x="1276.5" y="92" width="12.5" height="9" rx="1.5" fill="#3a3a3a"/>
<rect x="1304" y="40" width="45.5" height="98" rx="2" fill="#aca898"/>
<polygon points="1342,40 1348,40 1350,42 1350,86 1342,78" fill="#4e4e50"/>
<text x="1309" y="68" font-size="27" fill="#f4f4f4" font-family="Liberation Sans">P</text>
<rect x="1349.5" y="53" width="122.5" height="4.7" fill="#dcdcec"/>
<g fill="#c81e1e"><rect x="1358" y="54.3" width="19" height="2.2"/><rect x="1395" y="54.3" width="19" height="2.2"/><rect x="1432.6" y="54.3" width="19" height="2.2"/></g>
</g>
<g transform="translate(-993.4,466)"><g>
<rect x="1271" y="2" width="22.5" height="136" rx="2" fill="#aaa698"/>
<polygon points="1271,4 1273,2 1291.5,2 1293.5,4 1293.5,88.5 1271,79" fill="#4e4e50"/>
<rect x="1273.4" y="22" width="17.6" height="26.6" fill="#181818"/>
<g fill="#22b030"><rect x="1276" y="26" width="3" height="3"/><rect x="1276" y="31" width="3" height="3"/><rect x="1276" y="36" width="3" height="3"/><rect x="1276" y="41" width="3" height="3"/></g>
<g fill="#d02020"><rect x="1285" y="26" width="3" height="2"/><rect x="1285" y="31" width="3" height="3"/><rect x="1285" y="36" width="3" height="2"/><rect x="1285" y="41" width="3" height="3"/></g>
<rect x="1275" y="7" width="14" height="5" rx="2.5" fill="#2a2a2a"/>
<rect x="1286" y="56" width="2" height="24" fill="#c8c8c8" opacity="0.7"/>
<rect x="1276.5" y="92" width="12.5" height="9" rx="1.5" fill="#3a3a3a"/>
<rect x="1304" y="40" width="45.5" height="98" rx="2" fill="#aca898"/>
<polygon points="1342,40 1348,40 1350,42 1350,86 1342,78" fill="#4e4e50"/>
<text x="1309" y="68" font-size="27" fill="#f4f4f4" font-family="Liberation Sans">P</text>
<rect x="1349.5" y="53" width="122.5" height="4.7" fill="#dcdcec"/>
<g fill="#c81e1e"><rect x="1358" y="54.3" width="19" height="2.2"/><rect x="1395" y="54.3" width="19" height="2.2"/><rect x="1432.6" y="54.3" width="19" height="2.2"/></g>
</g></g>
<defs><linearGradient id="gCard" x1="0" y1="1" x2="1" y2="0"><stop offset="0.25" stop-color="#ffffff"/><stop offset="1" stop-color="#d8e5fa"/></linearGradient></defs>
<rect x="1426" y="248" width="347" height="163" fill="#e4e9f3"/>
<rect x="1438" y="248" width="323" height="163" fill="#ffffff"/>
<rect x="1449" y="266" width="302" height="139" rx="9" fill="url(#gCard)"/>
<path d="M1449,290 L1449,275 Q1449,266 1458,266 L1552,266 L1541,282 Q1536,290 1525,290 Z" fill="#d3efe6"/>
<text x="1467" y="282.5" font-size="10.5" fill="#3cc08c" font-family="Liberation Sans">正在叫号中...</text>
<text x="1600" y="317" font-size="20" fill="#1a6be0" font-family="Liberation Sans" text-anchor="middle" font-weight="bold" textLength="277" lengthAdjust="spacingAndGlyphs">001，请您前往月台A-001月</text>
<text x="1600" y="341" font-size="20" fill="#1a6be0" font-family="Liberation Sans" text-anchor="middle" font-weight="bold">台</text>
<text x="1516" y="363.5" font-size="10" fill="#a8a8a8" font-family="Liberation Sans">签到时间</text>
<text x="1580.5" y="364" font-size="11" fill="#333333" font-family="Liberation Sans" textLength="102" lengthAdjust="spacingAndGlyphs">2024-08-06 14:20:07</text>
<rect x="1459" y="372.5" width="281" height="1" fill="#e6eaf0"/>
<text x="1459" y="393.5" font-size="10" fill="#444444" font-family="Liberation Sans">前方正在等待<tspan fill="#2a7ae0">0</tspan>人</text>
<polygon points="183,523 239,524 219.5,537" fill="#e6dad6"/>
<polygon points="94,569 182,521 277,573 190,626" fill="#d8d2ca"/>
<polygon points="94,569 190,626 190,631 94,574" fill="#f0c020"/>
<polygon points="190,626 277,575 277,580 190,631" fill="#b8b0a8"/>
<polygon points="120,575 200,530 206,533 126,578" fill="#c0b8b0" opacity="0.8"/>
<polygon points="136,565 170,580 160,586 150,578" fill="#f8f6f2"/>
<polygon points="145,548 215,588 222,584 152,544" fill="#f0c020"/>
<polygon points="176,521 274,574 270,578 172,524" fill="#f0c020"/>
<polygon points="94,514 101,518 101,569 94,565" fill="#e8e4e0"/><polygon points="101,518 105,516 105,567 101,569" fill="#c8c0b8"/>
<polygon points="94,548 105,552 105,569 94,565" fill="#f0c020"/><g stroke="#2a2a2a" stroke-width="2"><line x1="95" y1="556" x2="104" y2="552"/><line x1="95" y1="563" x2="104" y2="559"/></g>
<polygon points="174,466 181,470 181,523 174,519" fill="#e8e4e0"/><polygon points="181,470 185,468 185,521 181,523" fill="#c8c0b8"/>
<polygon points="174,503 185,507 185,523 174,519" fill="#f0c020"/><g stroke="#2a2a2a" stroke-width="2"><line x1="175" y1="512" x2="184" y2="508"/><line x1="175" y1="519" x2="184" y2="515"/></g>
<polygon points="94,514 180,465 187,469 101,518" fill="#f4f2ee"/><polygon points="94,514 101,518 101,522 94,518" fill="#c8c0b8"/>
<polygon points="94,514 181,465 181,474 94,523" fill="#f0ece8"/>
<circle cx="112" cy="512" r="2.8" fill="#d83030"/><circle cx="130" cy="501" r="2.8" fill="#d83030"/><rect x="152" y="486" width="4" height="4" fill="#2a70c0"/><rect x="174" y="475" width="4" height="4" fill="#2a70c0"/>
<polygon points="143,506 170,491 170,494 143,509" fill="#f0c020"/>
<circle cx="183" cy="487" r="5" fill="#f4f0f0" stroke="#d03030" stroke-width="1.2"/>
<line x1="167" y1="510" x2="167" y2="540" stroke="#e8e0dc" stroke-width="2"/><line x1="167" y1="510" x2="167" y2="540" stroke="#d03030" stroke-width="2" stroke-dasharray="3 3"/>
<polygon points="145,547 150,544 232,588 227,591" fill="#f0c020"/><polygon points="145,547 227,591 227,595 145,551" fill="#c89818"/>
<polygon points="164,543 172,539 179,542 179,562 171,566 164,562" fill="#f0c020"/>
<polygon points="172.4,542 180,538.4 186.5,542 186.5,565 180,568.7 172.4,565" fill="#e89838"/><polygon points="172.4,542 180,538.4 186.5,542 179,546" fill="#f8b050"/><polygon points="179,546 186.5,542 186.5,565 179,568.7" fill="#c87828"/>
<rect x="172.5" y="543" width="6" height="9" fill="#f0f0e8"/>
<polygon points="191.7,553 198,549 205,553 205,574 198,577 191.7,574" fill="#e89838"/><polygon points="198,553 205,549.5 205,574 198,577" fill="#c87828"/>
<polygon points="204,560 210,556 214,559 214,583 208,587 204,584" fill="#f0c020"/>
<polygon points="214.3,559.3 234.8,572 236.5,586.6 215,575.5" fill="#e8e2dc"/>
<polygon points="234.8,572 257,561.8 257.8,574.7 236.5,586.6" fill="#f0ece8"/>
<polygon points="208.3,559.3 214.3,548.2 230.5,555 229.7,570.4" fill="#6e5058"/>
<polygon points="230.5,555 249.3,544.8 256,561.8 234.8,572" fill="#5a3e48"/>
<polygon points="214.3,548.2 233.5,535.4 249.3,544.8 230.5,555" fill="#f4f0ec"/>
<ellipse cx="228.8" cy="579.8" rx="3" ry="4" fill="#2a2a2a"/><rect x="236" y="576" width="3" height="4" fill="#c02030"/><rect x="254" y="566" width="3" height="4" fill="#c02030"/>
<line x1="181" y1="589" x2="212" y2="571" stroke="#f0ece8" stroke-width="2"/><line x1="181" y1="589" x2="212" y2="571" stroke="#d03030" stroke-width="2" stroke-dasharray="3 3"/>
<ellipse cx="221" cy="579" rx="4.5" ry="5.5" fill="#2a78c8"/><polygon points="215,592 221,589 228,592 222,596" fill="#f0c020"/>
<rect x="637" y="836" width="113" height="11" fill="#5a5a5c"/>
<rect x="737.5" y="709" width="10.5" height="128" fill="#d6d6d8"/><rect x="744" y="709" width="4" height="128" fill="#ececee"/>
<polygon points="716,713 746,706 750,708 750,717 722,727 716,725" fill="#eeeeee"/><polygon points="714,714 724,712 726,726 716,727" fill="#3a3a3c"/>
<g stroke="#ffffff" stroke-width="2" fill="none"><line x1="706.6" y1="722.5" x2="669.5" y2="743.5"/><polyline points="675,734 669,744 681,744"/></g>
<rect x="647" y="783" width="16" height="21" fill="#d8c088"/><g stroke="#b89a60" stroke-width="0.8"><line x1="647" y1="790" x2="663" y2="790"/><line x1="647" y1="797" x2="663" y2="797"/><line x1="655" y1="783" x2="655" y2="804"/></g>
<rect x="646" y="804" width="18" height="2.5" fill="#7a5a40"/>
<rect x="664" y="787" width="3" height="42" fill="#3a3a3a"/><rect x="668" y="792" width="2" height="37" fill="#f0c030"/>
<polygon points="672,814 696,814 700,808 710,808 710,830 672,830" fill="#e8c040"/><rect x="690" y="808" width="20" height="10" fill="#f0cc48"/>
<polyline points="676,814 680,793 698,793 700,808" stroke="#3a3a3a" stroke-width="1.8" fill="none"/>
<circle cx="692" cy="800" r="3" fill="#f0f0f0"/><rect x="689" y="803" width="6" height="8" fill="#e8e8e8"/>
<circle cx="679" cy="830" r="5" fill="#2a2a2a"/><circle cx="701" cy="830" r="5" fill="#2a2a2a"/><circle cx="679" cy="830" r="2" fill="#888"/><circle cx="701" cy="830" r="2" fill="#888"/>
<polygon points="790.4,707.4 917.3,711.9 917.3,763 790.4,758" fill="#4a4a4c"/>
<polygon points="795,712 909,715.5 909,758 795,755" fill="#2e2e30"/>
<polygon points="909,715.5 917.3,711.9 917.3,763 909,758" fill="#3a3a3c"/>
<text x="825" y="735" font-size="17.5" fill="#c81818" font-family="Liberation Sans" font-weight="bold" textLength="60" lengthAdjust="spacingAndGlyphs">欢迎光临</text>
<text x="795" y="756" font-size="20" fill="#2aa046" font-family="Liberation Mono" font-weight="bold" textLength="34" lengthAdjust="spacingAndGlyphs">浙A</text><text x="830" y="749" font-size="12" fill="#2aa046" font-family="Liberation Sans" font-weight="bold">·</text><text x="838" y="756.5" font-size="22" fill="#2aa046" font-family="Liberation Mono" textLength="72" lengthAdjust="spacingAndGlyphs" stroke="#2aa046" stroke-width="0.6">823H58</text>
<rect x="1395.3" y="645.3" width="83.4" height="109.7" fill="#e2c03a"/>
<rect x="1430" y="653.5" width="12" height="4.6" fill="#555"/><text x="1436" y="651" font-size="4" fill="#333" text-anchor="middle" font-family="Liberation Sans">UNV</text>
<circle cx="1436.4" cy="681.7" r="20.5" fill="#f2f2f2" stroke="#d42020" stroke-width="5"/>
<text x="1436.4" y="690" font-size="23" fill="#222" text-anchor="middle" font-weight="bold" font-family="Liberation Sans">40</text>
<rect x="1399" y="705.6" width="74.7" height="11.4" fill="#3a3430"/>
<text x="1436" y="715" font-size="10" fill="#ff2020" text-anchor="middle" font-weight="bold" font-family="Liberation Sans" textLength="64" lengthAdjust="spacingAndGlyphs">浙A  123456</text>
<text x="1436.5" y="727.5" font-size="11.5" fill="#2a2a2a" text-anchor="middle" font-weight="bold" font-family="Liberation Sans">您的速度</text>
<rect x="1411" y="729.3" width="50.6" height="23.3" fill="#3a3430"/>
<text x="1436.3" y="750" font-size="20" fill="#ff1010" text-anchor="middle" font-family="Liberation Sans">53</text>
<rect x="1402" y="734" width="4" height="8" fill="#c8b060"/><rect x="1467" y="734" width="4" height="8" fill="#c8b060"/>
<rect x="1509.7" y="650" width="154.3" height="6.5" fill="#0a9ad8"/>
<rect x="1654.5" y="650" width="9.5" height="106" fill="#0a9ad8"/>
<rect x="1555" y="656" width="100" height="57.5" fill="#0a9ad8"/>
<rect x="1558.7" y="657.8" width="95.8" height="52.8" fill="#4a4a4a"/>
<g fill="#c80000" font-family="Liberation Sans" font-weight="bold" text-anchor="middle"><text x="1606" y="673.5" font-size="13" textLength="58" lengthAdjust="spacingAndGlyphs">浙A12345</text><text x="1606" y="688" font-size="12.5">此处禁止停车</text><text x="1606" y="702" font-size="12.5">请立即驶离</text></g>
<path d="M1513,688 C1512,668 1519,660 1527,659 C1535,660 1542,668 1541,688 Z" fill="#f0f0f0"/>
<rect x="1524" y="656.5" width="6" height="4" rx="1" fill="#d8d8d8"/>
<path d="M1513,687 L1541,687 L1540,700 C1538,708 1533,711 1527,711 C1521,711 1516,708 1514,700 Z" fill="#e4e4e4"/>
<circle cx="1527" cy="697" r="9" fill="#3a3a3c"/><circle cx="1527" cy="697" r="5" fill="#1a1a1c"/>
<rect x="1513" y="686" width="28" height="2" fill="#c0c0c0"/>

 <g fill="none" stroke="#4a78d2" stroke-width="2">
  <path d="M178,330 C100,336 69,420 69,494 C69,585 80,650 106,657"/>
  <path d="M124,675 C132,790 420,900 731,906"/>
  <path d="M897,906 C1150,903 1292,891 1302,877 C1307,865 1345,848 1444,843"/>
  <path d="M1610,843 C1690,843 1748,760 1748,651 C1748,560 1720,468 1649,464"/>
  <path d="M1485,464 C1380,462 1280,400 1275,290 C1272,220 1230,120 1126,110"/>
  <path d="M1043,95 C950,98 884,108 878,124 C873,138 840,156 719,160"/>
  <path d="M553,160 C490,160 449,195 447,243 C446,290 410,322 343,330"/>
 </g>
</svg>

<div class="num" style="left:177px;top:313px">1</div>
<div class="num" style="left:553px;top:143px">2</div>
<div class="num" style="left:1043px;top:74px">3</div>
<div class="num" style="left:1485px;top:447px">4</div>
<div class="num" style="left:1444px;top:826px">5</div>
<div class="num" style="left:731px;top:889px">6</div>
<div class="num" style="left:105px;top:642px">7</div>

<div class="t lb" id="l1" style="left:237px;top:318px">入园预约</div>
<div class="t lb" id="l2" style="left:612px;top:150px">入园审批</div>
<div class="t lb" id="l3" style="left:1102px;top:80px">签到</div>
<div class="t lb" id="l4" style="left:1542px;top:453px">排队叫号</div>
<div class="t lb" id="l5" style="left:1504px;top:832px">行车规范</div>
<div class="t lb" id="l6" style="left:790px;top:895px">月台作业</div>
<div class="t lb" id="l7" style="left:165px;top:648px">出园</div>

<div class="t bd" id="d1" style="left:223px;top:280px;font-size:19.3px">线上提前预约入园</div>
<div class="t bd" id="d2" style="left:606px;top:111.5px">线上审批<span style="margin:0 3px 0 2px">/</span>驳回</div>
<div class="t" id="d3" style="left:1376px;top:86.5px;font-size:19px;line-height:22.4px">1、自动签到<span class="cl">:</span>经过道闸视为签到<br>2、提前签到<span class="cl">:</span>小程序端手动签到</div>
<div class="t bd" id="d7" style="left:245.5px;top:618px;line-height:23px;letter-spacing:-0.2px">1、保安严格核查后<br>自动放行</div>
<div class="t bd" id="d6" style="left:790px;top:780px;line-height:21.9px">1、月台相机<span class="cl">:</span>可识别车辆驶入/驶出月台的记录并抓拍出入图，<br>可查看实况/录像<br>2、信息发布<span class="cl">:</span>将月台和作业车辆信息发布到屏幕上实时展示</div>
<div class="t bd" id="d5a" style="left:1378.5px;top:778.5px">1、超速抓拍</div>
<div class="t bd" id="d5b" style="left:1540.5px;top:778.5px;letter-spacing:0.3px">2、违停抓拍</div>

</body></html>
